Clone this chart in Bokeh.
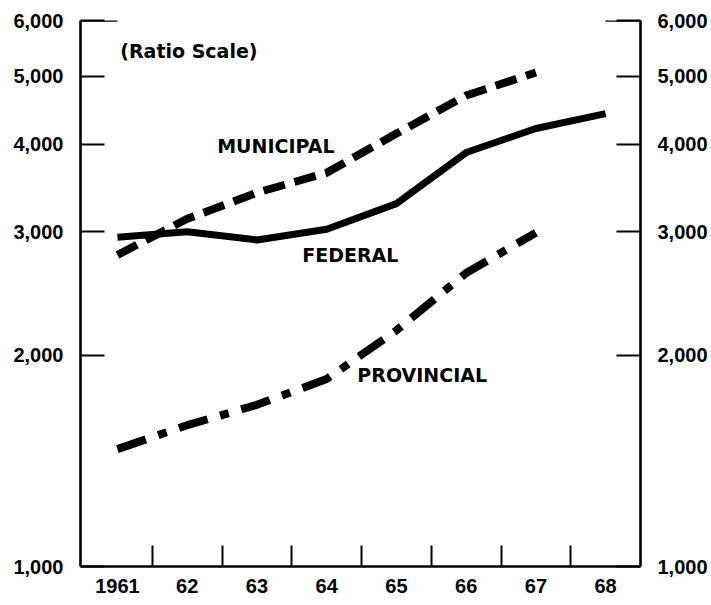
from bokeh.plotting import figure
from bokeh.models import FixedTicker, LogAxis, NumeralTickFormatter, Range1d, Label
from bokeh.embed import file_html
from bokeh.resources import INLINE

# ---- data ----
years = [1961, 1962, 1963, 1964, 1965, 1966, 1967, 1968]
year_labels = ["1961", "62", "63", "64", "65", "66", "67", "68"]
federal = [2945, 3000, 2920, 3025, 3290, 3890, 4210, 4420]
municipal_years = [1961, 1962, 1963, 1964, 1965, 1966, 1967]
municipal = [2780, 3130, 3410, 3640, 4140, 4690, 5060]
provincial_years = [1961, 1962, 1963, 1964, 1965, 1966, 1967]
provincial = [1470, 1590, 1700, 1850, 2170, 2620, 2990]
y_ticks = [1000, 2000, 3000, 4000, 5000, 6000]

X_LO, X_HI = 1960.47, 1968.5
Y_LO, Y_HI = 1000, 6000
FRAME_W = 560
PX_PER_YEAR = FRAME_W / (X_HI - X_LO)

TICK_FONT = "Liberation Sans"
LABEL_FONT = "DejaVu Sans"

p = figure(
    frame_width=FRAME_W, frame_height=546,
    x_range=Range1d(X_LO, X_HI), y_range=Range1d(Y_LO, Y_HI),
    y_axis_type="log",
    output_backend="svg", toolbar_location=None,
    min_border_left=80, min_border_right=70,
    min_border_top=20, min_border_bottom=38,
    background_fill_color="white", border_fill_color="white",
)
p.outline_line_color = None
p.xgrid.grid_line_color = None
p.ygrid.grid_line_color = None


def style_y_axis(ax, standoff):
    ax.ticker = FixedTicker(ticks=y_ticks)
    ax.formatter = NumeralTickFormatter(format="0,0")
    ax.major_tick_in = 24
    ax.major_tick_out = 0
    ax.minor_tick_line_color = None
    ax.axis_line_width = 2.6
    ax.axis_line_color = "black"
    ax.major_tick_line_width = 2
    ax.major_tick_line_color = "black"
    ax.major_label_text_font = TICK_FONT
    ax.major_label_text_font_style = "bold"
    ax.major_label_text_font_size = "20px"
    ax.major_label_text_color = "black"
    ax.major_label_standoff = standoff


style_y_axis(p.yaxis[0], 17)
right_axis = LogAxis()
style_y_axis(right_axis, 17)
p.add_layout(right_axis, "right")

xa = p.xaxis[0]
xa.ticker = FixedTicker(ticks=years, minor_ticks=[y + 0.5 for y in years[:-1]])
xa.major_label_overrides = {y: lab for y, lab in zip(years, year_labels)}
xa.major_tick_in = 0
xa.major_tick_out = 0
xa.minor_tick_in = 21
xa.minor_tick_out = 0
xa.minor_tick_line_width = 2
xa.minor_tick_line_color = "black"
xa.axis_line_width = 2.6
xa.axis_line_color = "black"
xa.major_label_text_font = TICK_FONT
xa.major_label_text_font_style = "bold"
xa.major_label_text_font_size = "20px"
xa.major_label_text_color = "black"
xa.major_label_standoff = 12

# longer cap ticks at the top of both scales
p.segment(x0=[X_LO, X_HI - 35 / PX_PER_YEAR], y0=[Y_HI, Y_HI],
          x1=[X_LO + 37 / PX_PER_YEAR, X_HI], y1=[Y_HI, Y_HI],
          line_color="black", line_width=2.6)

# series
p.line(years, federal, line_color="black", line_width=7, line_join="round")
p.line(municipal_years, municipal, line_color="black", line_width=8,
       line_dash="22 10")
p.line(provincial_years, provincial, line_color="black", line_width=8,
       line_dash="30 13 9 13")

# annotations
for txt, x, y in [("(Ratio Scale)", 1961.04, 5420),
                  ("MUNICIPAL", 1962.43, 3970),
                  ("FEDERAL", 1963.65, 2775),
                  ("PROVINCIAL", 1964.44, 1872)]:
    p.add_layout(Label(x=x, y=y, text=txt, text_font=LABEL_FONT,
                       text_font_style="bold", text_font_size="19px",
                       text_color="black", text_baseline="middle",
                       text_align="left"))

open("out.html", "w").write(file_html(p, INLINE))
